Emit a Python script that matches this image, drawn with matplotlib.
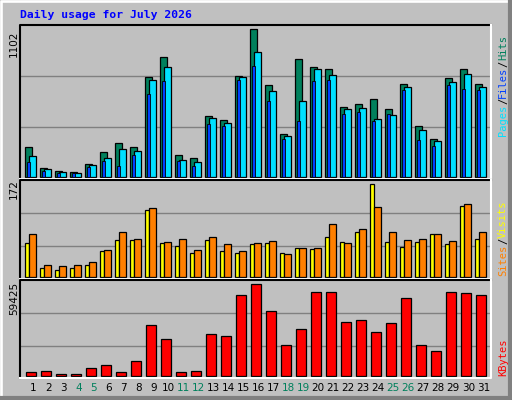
import matplotlib
matplotlib.use('Agg')
import matplotlib.pyplot as plt
from matplotlib.patches import Rectangle
from matplotlib.lines import Line2D

days = list(range(1, 32))
weekend = [4, 5, 11, 12, 18, 19, 25, 26]

hits = [222, 63, 40, 33, 95, 182, 252, 222, 743, 893, 162, 140, 452, 422, 751, 1102,
        683, 317, 878, 818, 803, 519, 541, 579, 504, 691, 377, 280, 736, 803, 691]
files = [155, 55, 33, 25, 87, 140, 207, 192, 721, 818, 125, 110, 439, 399, 743, 930,
         638, 302, 564, 803, 758, 504, 511, 429, 459, 668, 347, 265, 705, 766, 668]
pages = [110, 40, 25, 25, 73, 117, 80, 162, 616, 715, 117, 80, 394, 379, 721, 825,
         564, 280, 414, 713, 721, 466, 481, 414, 466, 646, 272, 227, 683, 653, 646]
visits = [62, 16, 12, 17, 21, 47, 68, 68, 125, 62, 57, 44, 68, 47, 44, 60,
          62, 45, 53, 51, 73, 64, 83, 172, 64, 55, 64, 79, 60, 131, 70]
sites = [79, 21, 19, 21, 27, 49, 83, 71, 127, 64, 70, 49, 73, 60, 47, 62,
         66, 42, 53, 53, 98, 62, 88, 129, 83, 68, 71, 79, 66, 135, 83]
kbytes = [2211, 2861, 910, 910, 4811, 6762, 2211, 9363, 32770, 23667, 2211, 2861,
          26918, 25618, 52276, 59425, 41873, 19766, 30169, 54227, 54227, 34721,
          36021, 28219, 34071, 50325, 19766, 15865, 54227, 53576, 52276]

GRAY = '#c0c0c0'
W, H = 512, 400

fig = plt.figure(figsize=(W / 100, H / 100), dpi=100, facecolor=GRAY)

# outer bevel
bg = fig.add_axes([0, 0, 1, 1])
bg.set_xlim(0, W); bg.set_ylim(H, 0); bg.axis('off')
bg.add_line(Line2D([1, 1, W - 2], [H - 2, 1, 1], color='white', lw=2))
bg.add_line(Line2D([1, W - 2, W - 2], [H - 2, H - 2, 1], color='#808080', lw=3))
bg.add_patch(Rectangle((0.5, 0.5), W - 1, H - 1, fill=False, ec='black', lw=1))
bg.text(20, 15, 'Daily usage for July 2026', color='#0000ff', family='DejaVu Sans Mono',
        weight='bold', fontsize=8.2, va='center')


def panel(y0, y1, base, top_px, top_val, grid_px):
    ax = fig.add_axes([20 / W, 1 - y1 / H, 471 / W, (y1 - y0) / H])
    scale = top_val / (base - top_px)
    ax.set_xlim(20, 491)
    ax.set_ylim(-(y1 - base) * scale, (base - y0) * scale)
    ax.set_facecolor(GRAY)
    ax.set_xticks([]); ax.set_yticks([])
    for s in ax.spines.values():
        s.set_visible(False)
    for g in grid_px:
        ax.axhline((base - g) * scale, color='#808080', lw=1, zorder=0)
    ax.plot([20, 20, 491], [-(y1 - base) * scale, (base - y0) * scale, (base - y0) * scale],
            color='black', lw=1.5, clip_on=False)
    ax.plot([20, 491, 491], [-(y1 - base) * scale, -(y1 - base) * scale, (base - y0) * scale],
            color='white', lw=1.5, clip_on=False)
    return ax


kw = dict(align='edge', edgecolor='black', linewidth=0.9)

ax1 = panel(25, 179, 176.7, 29.3, 1102, [76, 127])
x0 = [25.3 + 15 * (d - 1) for d in days]
ax1.bar(x0, hits, width=7, color='#00805c', **kw)
ax1.bar([x + 4 for x in x0], files, width=7, color='#00e0ff', **kw)
ax1.bar([x + 1.7 for x in x0], pages, width=2.6, color='#0040ff', edgecolor='black', linewidth=0.6, align='edge')

ax2 = panel(180, 279, 276.7, 184.3, 172, [213.3, 246.3])
ax2.bar(x0, visits, width=4, color='#ffff00', **kw)
ax2.bar([x + 4 for x in x0], sites, width=7, color='#ff8000', **kw)

ax3 = panel(280, 378, 375.7, 284.3, 59425, [313.3, 345.7])
ax3.bar([x + 1 for x in x0], kbytes, width=10, color='#ff0000', **kw)

# left max labels
for y, t in [(44, '1102'), (189, '172'), (298, '59425')]:
    bg.text(14, y, t, rotation=90, ha='center', va='center', fontsize=7.5, color='black')

# day labels
for d in days:
    bg.text(33.3 + 15 * (d - 1), 388, str(d), ha='center', va='center', fontsize=7.5,
            color='#00805c' if d in weekend else 'black')

# right side legends
mono = dict(family='DejaVu Sans Mono', fontsize=7.5, rotation=90, ha='center', va='bottom')
def vlabel(y_bottom, parts):
    y = y_bottom
    for txt, col in parts:
        bg.text(503, y, txt, color=col, **mono)
        y -= 6.3 * len(txt)

vlabel(136, [('Pages', '#00e0ff'), ('/', 'black'), ('Files', '#0040ff'), ('/', 'black'), ('Hits', '#00805c')])
vlabel(276, [('Sites', '#ff8000'), ('/', 'black'), ('Visits', '#ffff00')])
vlabel(376, [('KBytes', '#ff0000')])

fig.savefig('out.png', dpi=100, facecolor=GRAY)
